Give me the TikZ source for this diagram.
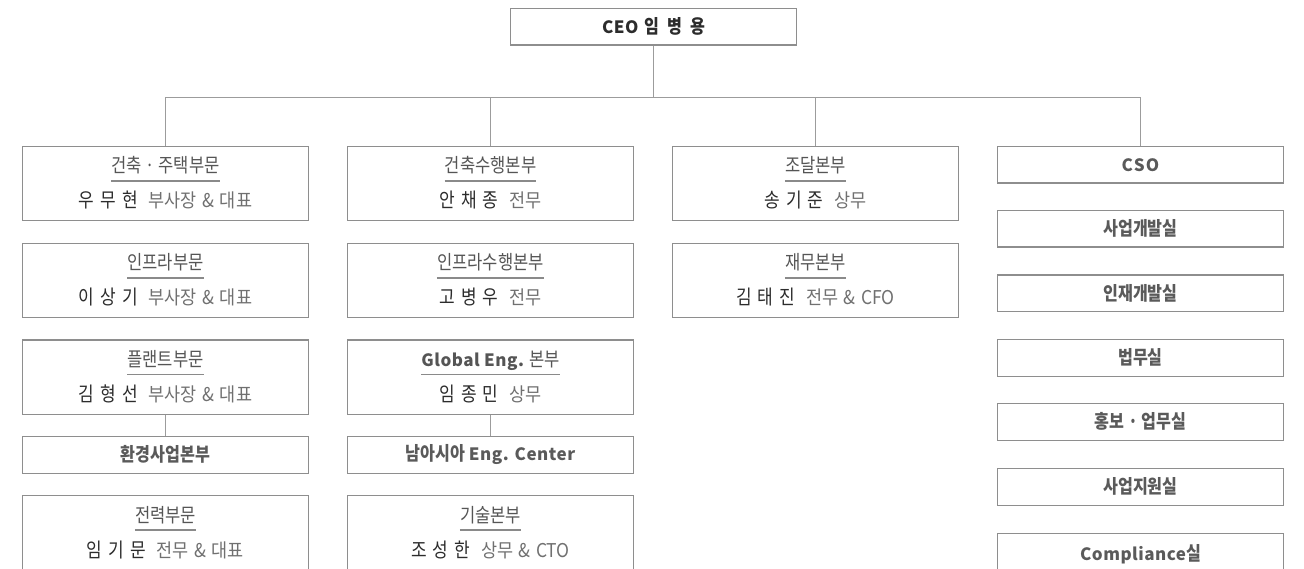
\documentclass[tikz,border=0pt]{standalone}
\usepackage{fontspec}
\setmainfont{Noto Sans CJK KR}[FakeStretch=0.85]
\newfontfamily\lat{Noto Sans CJK KR}[LetterSpace=3]
\newfontfamily\rolefont{Noto Sans CJK KR}[FakeStretch=0.92]
\definecolor{boxline}{HTML}{8E8E8E}
\definecolor{linkline}{HTML}{9C9C9C}
\definecolor{ulcolor}{HTML}{8A8A8A}
\definecolor{ttltext}{HTML}{555555}
\definecolor{headtext}{HTML}{5A5A5A}
\definecolor{nametext}{HTML}{2C2C2C}
\definecolor{roletext}{HTML}{707070}

\begin{document}
\begin{tikzpicture}[x=1pt,y=-1pt,
  box/.style={draw=boxline,line width=1.1pt,minimum width=286pt,inner sep=0pt,anchor=north},
  smallbox/.style={box,minimum height=36.5pt,font=\fontsize{19}{21}\selectfont\bfseries,text=headtext},
  ttl/.style={inner sep=0pt,anchor=base,font=\fontsize{19.5}{21}\selectfont,text=ttltext},
  who/.style={inner sep=0pt,anchor=base,font=\rolefont\fontsize{19}{21}\selectfont,text=roletext},
  uline/.style={draw=ulcolor,line width=1.1pt},
  link/.style={draw=linkline,line width=1.1pt}]
  \useasboundingbox (0,0) rectangle (1304,569);
  \clip (0,0) rectangle (1304,569);
  % CEO and the bus line under it
  \node[smallbox,text=nametext] (ceo) at (653.5,8)
    {{\lat\fontsize{17}{21}\selectfont CEO}\hspace{6pt}{\spaceskip=8pt\relax 임 병 용}};
  \coordinate (bus) at (653.5,97.3);
  % Divisions with a title, its rule and the person in charge
  \foreach \n/\x/\y/\h/\t/\p/\r in {
    arch/165.5/146/74/{건축 · 주택부문}/{우 무 현}/{부사장 \& 대표},
    infra/165.5/243/74/{인프라부문}/{이 상 기}/{부사장 \& 대표},
    plant/165.5/339.5/74/{플랜트부문}/{김 형 선}/{부사장 \& 대표},
    power/165.5/495/80/{전력부문}/{임 기 문}/{전무 \& 대표},
    archx/490.5/146/74/{건축수행본부}/{안 채 종}/{전무},
    infrax/490.5/243/74/{인프라수행본부}/{고 병 우}/{전무},
    glob/490.5/339.5/74/{{\lat\fontsize{17}{21}\selectfont\bfseries Global Eng.} 본부}/{임 종 민}/{상무},
    tech/490.5/495/80/{기술본부}/{조 성 한}/{상무 \& CTO},
    proc/815.5/146/74/{조달본부}/{송 기 준}/{상무},
    fin/815.5/243/74/{재무본부}/{김 태 진}/{전무 \& CFO}} {
    \node[box,minimum height=\h pt] (\n) at (\x,\y) {};
    \path (\n.north) ++(0,27) node[ttl] (\n-t) {\t};
    \draw[uline] ([yshift=-8pt]\n-t.base west) -- ([yshift=-8pt]\n-t.base east);
    \path (\n.north) ++(0,62) node[who] (\n-p)
      {{\rmfamily\color{nametext}\fontsize{20}{21}\selectfont\spaceskip=6pt\relax \p}\hspace{11pt}{\spaceskip=5.5pt\relax \r}};
  }
  % Units with a single label
  \foreach \n/\x/\y/\h/\t in {
    env/165.5/436/36.5/{환경사업본부},
    sasia/490.5/436/36.5/{남아시아 {\lat\fontsize{17}{21}\selectfont Eng. Center}},
    cso/1140.5/146/36.5/{{\lat\fontsize{17}{21}\selectfont\addfontfeature{LetterSpace=8}CSO}},
    bizdev/1140.5/210/36.5/{사업개발실},
    hrd/1140.5/274.5/36.5/{인재개발실},
    legal/1140.5/339/36.5/{법무실},
    pr/1140.5/403/36.5/{홍보 · 업무실},
    biz/1140.5/468/36.5/{사업지원실},
    comp/1140.5/532.5/42/{{\lat\fontsize{17}{21}\selectfont Compliance}실}} {
    \node[smallbox,minimum height=\h pt] (\n) at (\x,\y) {\t};
  }
  % Connectors
  \draw[link] (ceo.south) -- (bus);
  \draw[link] (arch.north) |- (bus) -| (cso.north);
  \foreach \n in {archx,proc} { \draw[link] (\n.north) -- (\n.north |- bus); }
  \draw[link] (plant.south) -- (env.north);
  \draw[link] (glob.south) -- (sasia.north);
\end{tikzpicture}
\end{document}
